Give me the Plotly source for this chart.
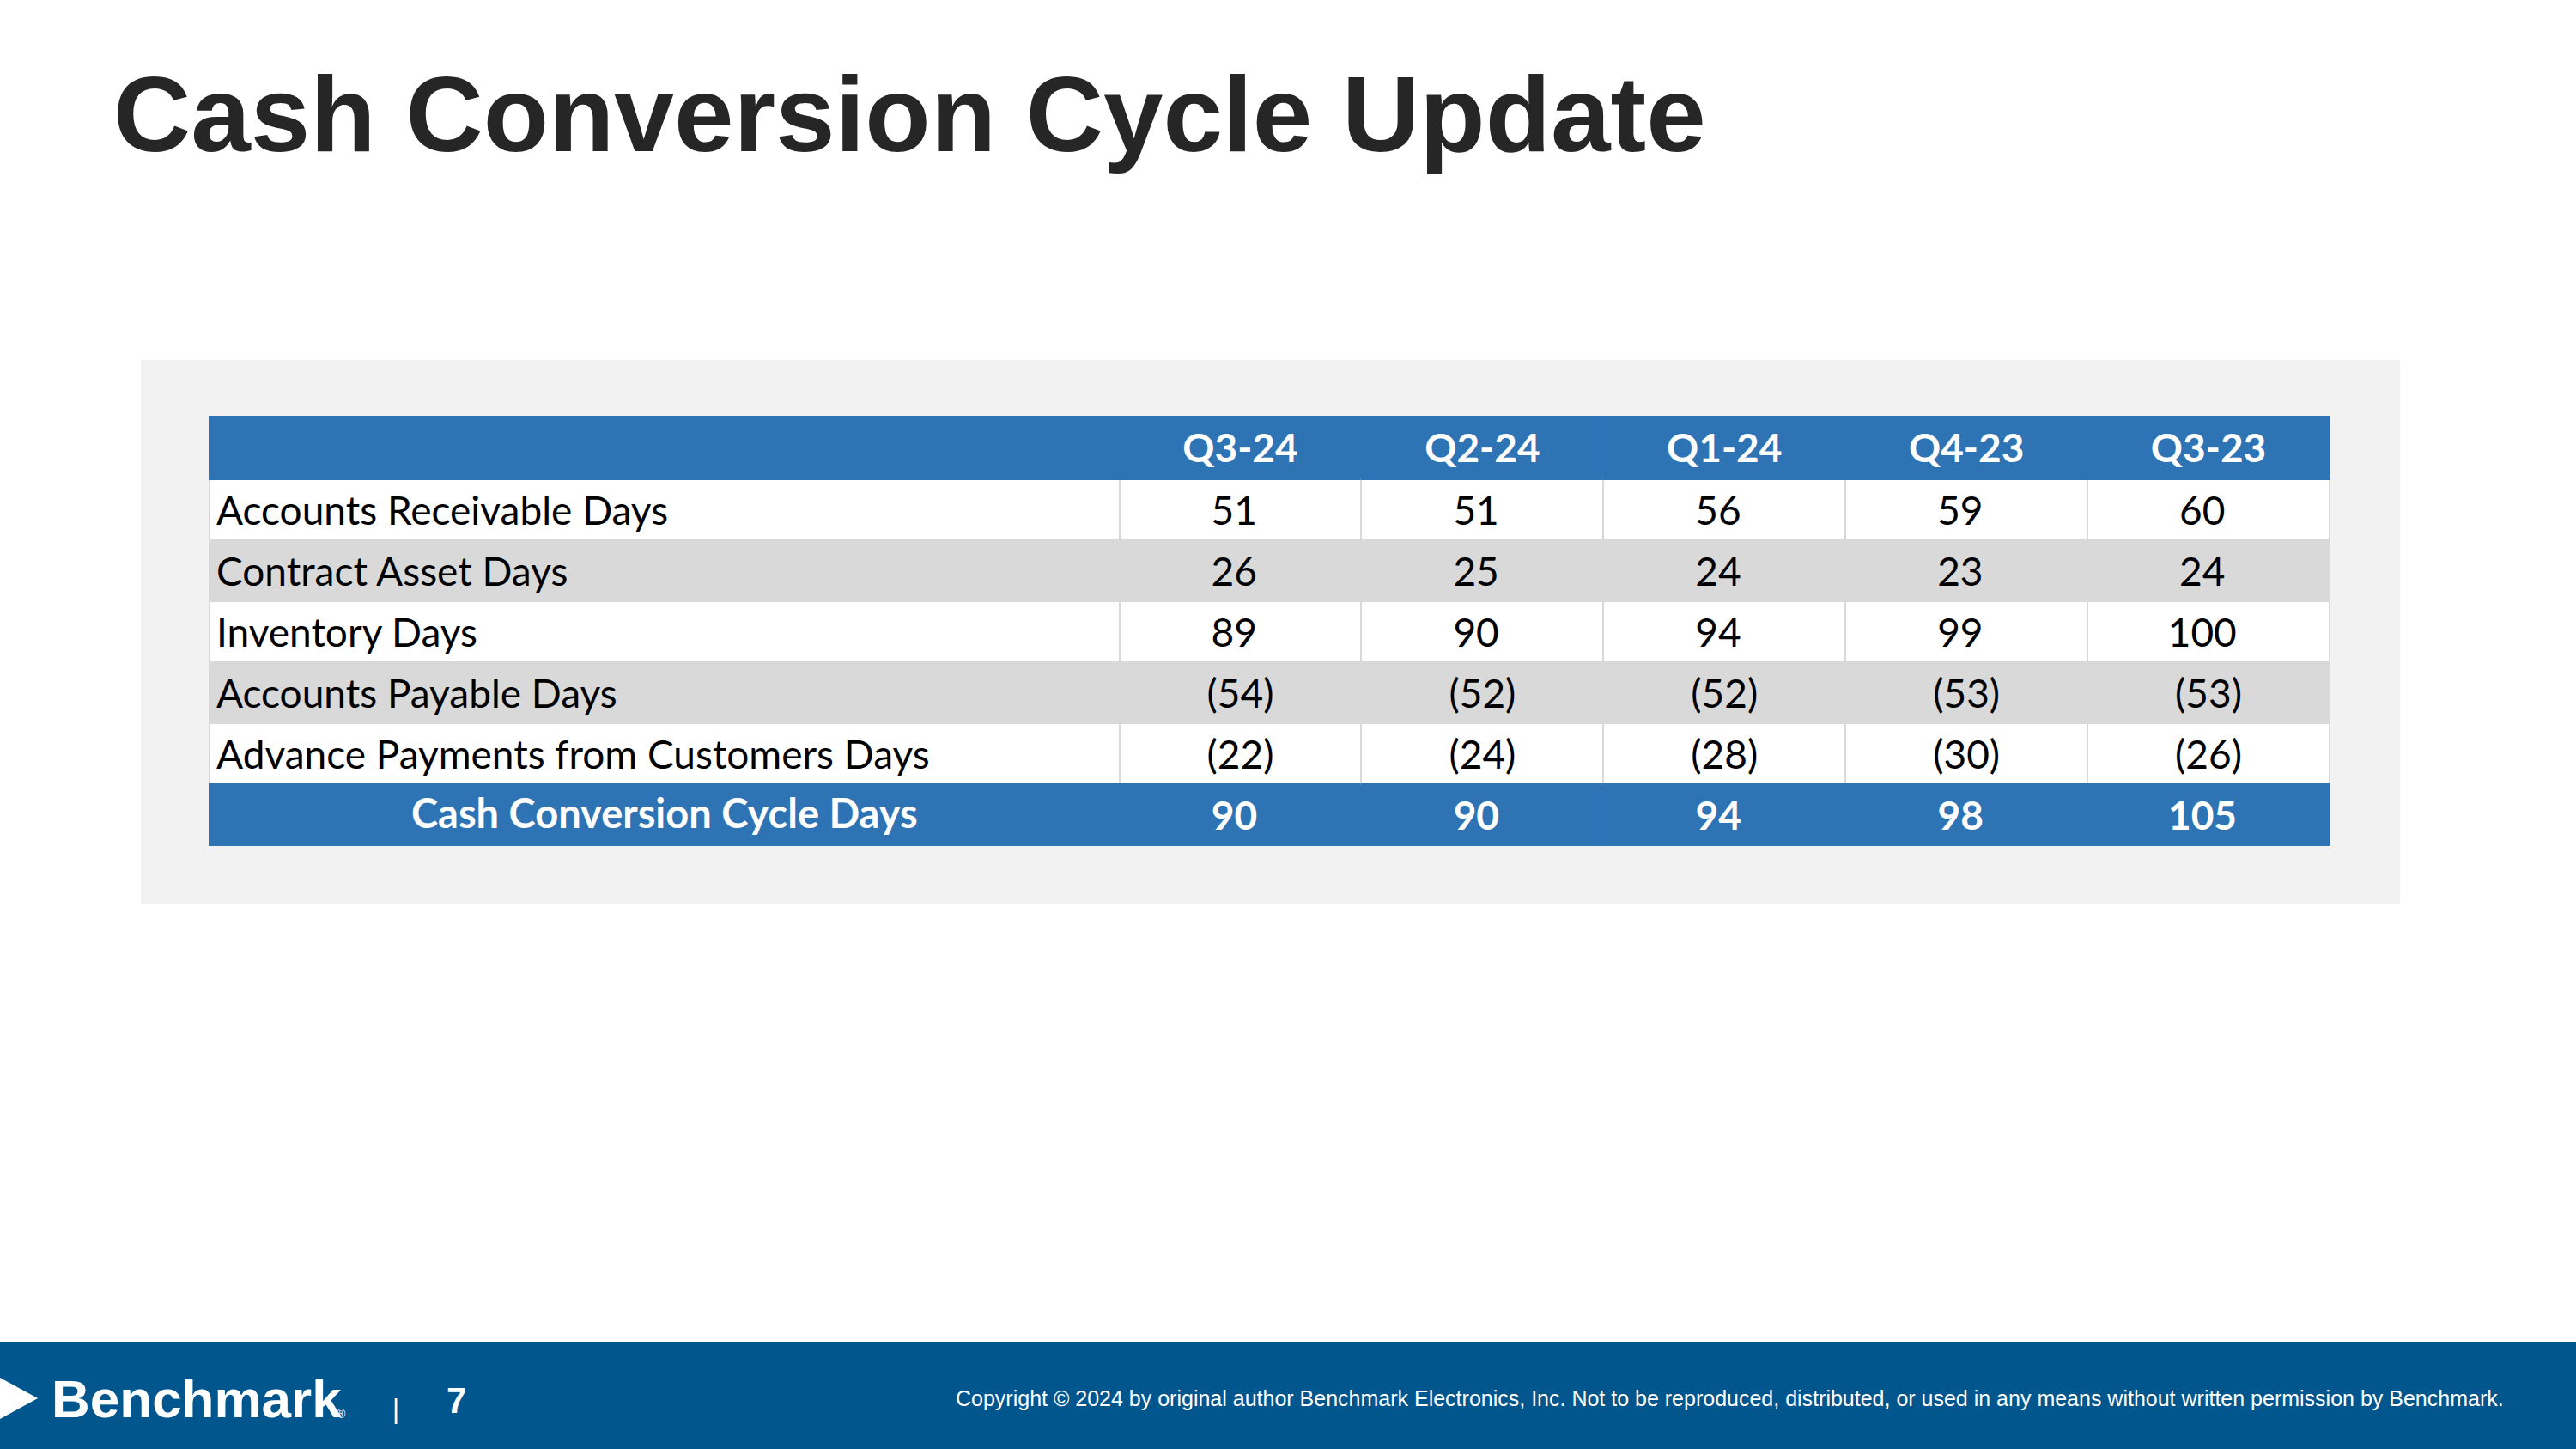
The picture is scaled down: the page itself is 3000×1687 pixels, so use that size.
import plotly.graph_objects as go

quarters = ["Q3-24", "Q2-24", "Q1-24", "Q4-23", "Q3-23"]
metrics = [
    "Accounts Receivable Days",
    "Contract Asset Days",
    "Inventory Days",
    "Accounts Payable Days",
    "Advance Payments from Customers Days",
]
total_label = "Cash Conversion Cycle Days"

receivable_days = [51, 51, 56, 59, 60]
contract_asset_days = [26, 25, 24, 23, 24]
inventory_days = [89, 90, 94, 99, 100]
payable_days = [-54, -52, -52, -53, -53]
advance_days = [-22, -24, -28, -30, -26]
ccc_days = [90, 90, 94, 98, 105]

BLUE = "#2E74B5"
GRAY = "#D9D9D9"
FOOT = "#01568D"


def fmt(v):
    # accounting style: negatives in brackets, positives padded for the bracket
    return f"({abs(v)})" if v < 0 else f"{v}\u00a0\u200a"


rows = [receivable_days, contract_asset_days, inventory_days, payable_days, advance_days]

# one list per column for the table; total row label is drawn centred below
label_col = [f"<span>{m}</span>" for m in metrics] + [""]
value_cols = []
for i in range(len(quarters)):
    col = [f"<span>{fmt(r[i])}</span>" for r in rows]
    col.append(f"<b>{fmt(ccc_days[i])}</b>")
    value_cols.append(col)

row_fill = ["white", GRAY, "white", GRAY, "white", BLUE]
row_font = ["black"] * 5 + ["white"]
row_line = [GRAY] * 5 + [BLUE]
ncol = len(quarters) + 1

fig = go.Figure()

fig.add_trace(go.Table(
    domain=dict(x=[244 / 3000, 2714 / 3000], y=[0.38, 1 - 485 / 1687]),
    columnwidth=[1060] + [282] * len(quarters),
    header=dict(
        values=[""] + [f"<b>{q}</b>" for q in quarters],
        fill_color=BLUE,
        line=dict(color=BLUE, width=2),
        font=dict(family="Lato", size=46, color="white"),
        align="center",
        height=73,
    ),
    cells=dict(
        values=[label_col] + value_cols,
        fill_color=[row_fill] * ncol,
        line=dict(color=[row_line] * ncol, width=2),
        font=dict(family="Lato", size=46, color=[row_font] * ncol),
        align=["left"] + ["center"] * len(quarters),
        height=70.4,
    ),
))

fig.add_annotation(text=f"<b>{total_label}</b>", xref="paper", yref="paper",
                   x=774 / 3000, y=1 - 946 / 1687, xanchor="center", yanchor="middle",
                   showarrow=False, font=dict(family="Lato", size=47, color="white"))

# light panel behind the table
fig.add_shape(type="rect", xref="paper", yref="paper", layer="below",
              x0=164 / 3000, x1=2795 / 3000, y0=1 - 1052 / 1687, y1=1 - 419 / 1687,
              fillcolor="#F2F2F2", line_width=0)

# footer band
fig.add_shape(type="rect", xref="paper", yref="paper",
              x0=0, x1=1, y0=0, y1=1 - 1562 / 1687,
              fillcolor=FOOT, line_width=0)
fig.add_shape(type="path", xref="paper", yref="paper",
              path="M 0 0.0492 L 0.0147 0.0350 L 0 0.0207 Z",
              fillcolor="white", line_width=0)

fig.add_annotation(text="<b>Cash Conversion Cycle Update</b>", xref="paper", yref="paper",
                   x=130 / 3000, y=1 - 133 / 1687, xanchor="left", yanchor="middle",
                   showarrow=False, font=dict(family="Liberation Sans", size=125, color="#262626"))

fig.add_annotation(text="<b>Benchmark</b>", xref="paper", yref="paper",
                   x=58 / 3000, y=1 - 1628 / 1687, xanchor="left", yanchor="middle",
                   showarrow=False, font=dict(family="Liberation Sans", size=62, color="white"))
fig.add_annotation(text="®", xref="paper", yref="paper",
                   x=397 / 3000, y=1 - 1646 / 1687, xanchor="center", yanchor="middle",
                   showarrow=False, font=dict(family="Liberation Sans", size=14, color="white"))
fig.add_annotation(text="|", xref="paper", yref="paper",
                   x=461 / 3000, y=1 - 1640 / 1687, xanchor="center", yanchor="middle",
                   showarrow=False, font=dict(family="Liberation Sans", size=31, color="white"))
fig.add_annotation(text="<b>7</b>", xref="paper", yref="paper",
                   x=531 / 3000, y=1 - 1630 / 1687, xanchor="center", yanchor="middle",
                   showarrow=False, font=dict(family="Liberation Sans", size=42, color="white"))
fig.add_annotation(
    text="Copyright © 2024 by original author Benchmark Electronics, Inc. Not to be reproduced, "
         "distributed, or used in any means without written permission by Benchmark.",
    xref="paper", yref="paper", x=2918 / 3000, y=1 - 1628 / 1687,
    xanchor="right", yanchor="middle", showarrow=False,
    font=dict(family="Liberation Sans", size=25, color="white"))

fig.update_layout(
    width=3000, height=1687,
    margin=dict(l=0, r=0, t=0, b=0),
    paper_bgcolor="white", plot_bgcolor="white",
)

fig.write_html("out.html", config={"displayModeBar": False},
               post_script="document.body.style.margin='0px';")
